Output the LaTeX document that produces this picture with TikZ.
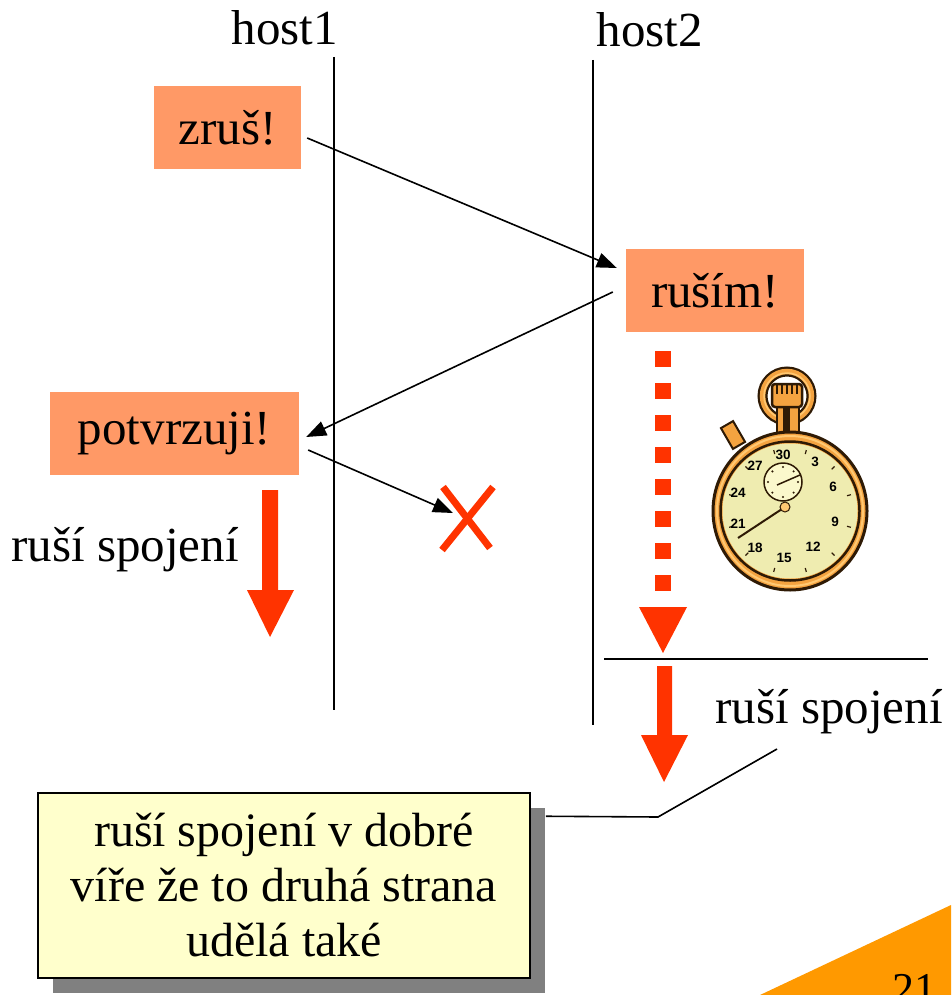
\documentclass[tikz,border=0pt]{standalone}
\usepackage{fontspec}
\setmainfont{Liberation Serif}
\newfontfamily\dialfont{Liberation Sans}
\usetikzlibrary{arrows.meta,calc,shadows}

\definecolor{msgfill}{HTML}{FF9966}
\definecolor{alarm}{HTML}{FF3300}
\definecolor{notefill}{HTML}{FFFFCC}
\definecolor{slide}{HTML}{FF9900}
\definecolor{casegold}{HTML}{F4A340}
\definecolor{caselight}{HTML}{FFC872}
\definecolor{casedark}{HTML}{2E1A05}
\definecolor{dialface}{HTML}{EFECB0}
\definecolor{subface}{HTML}{FBF8CC}

\tikzset{
  big/.style={font=\fontsize{49}{55}\selectfont},
  msg/.style={big, fill=msgfill, inner sep=0pt, minimum height=83pt},
  sendarrow/.style={line width=1.6pt, -{Triangle[length=20pt,width=15pt]}},
  lifeline/.style={line width=2pt},
  note/.style={font=\fontsize{48}{55}\selectfont, draw, line width=1.5pt, fill=notefill, align=center,
    inner sep=0pt, minimum width=492pt, minimum height=185pt,
    drop shadow={shadow xshift=15pt, shadow yshift=-15pt, fill=black!50, opacity=1}},
  dialnum/.style={font=\dialfont\bfseries\fontsize{13.5}{13.5}\selectfont, inner sep=0pt},
}

\begin{document}
\begin{tikzpicture}[x=1pt,y=-1pt]
\useasboundingbox (0,0) rectangle (951,995);

% page corner with slide number
\fill[slide] (760,995) -- (951,905) -- (951,995) -- cycle;
\node[font=\fontsize{44}{44}\selectfont, anchor=base, inner sep=0pt] (pageno) at (914,1003) {21};

% hosts and lifelines
\node[big, anchor=base, inner sep=0pt] (host1) at (285,45) {host1};
\node[big, anchor=base, inner sep=0pt] (host2) at (650,47) {host2};
\coordinate (l1top) at (334,57);
\coordinate (l1bot) at (334,710);
\coordinate (l2top) at (593,60);
\coordinate (l2bot) at (593,725);
\draw[lifeline] (l1top) -- (l1bot);
\draw[lifeline] (l2top) -- (l2bot);

% messages
\node[msg, minimum width=147pt] (zrus) at (227.5,127.5) {zruš!};
\node[msg, minimum width=178pt] (rusim) at (715,290.5) {ruším!};
\node[msg, minimum width=249pt] (potv) at (174.5,433.5) {potvrzuji!};

\draw[sendarrow] ($(zrus.east)+(6,10.5)$) -- ($(rusim.west)+(-9,-22.5)$);
\draw[sendarrow] ($(rusim.west)+(-13,1.5)$) -- ($(potv.east)+(7,3.5)$);

% lost acknowledgement
\coordinate (lost) at (467,518);
\draw[sendarrow] ($(potv.east)+(9,16.5)$) -- ($(lost)+(-14,-5)$);
\draw[alarm, line width=7pt] ($(lost)+(-24,-31)$) -- ($(lost)+(23,30)$);
\draw[alarm, line width=7pt] ($(lost)+(26,-31)$) -- ($(lost)+(-25,32)$);

% host1 closes the connection
\fill[alarm] (262,490) -- (278,490) -- (278,590) -- (294,590) -- (270,637)
  -- (247,590) -- (262,590) -- cycle;
\node[big, anchor=base, inner sep=0pt] (close1) at (125,561) {ruší spojení};

% host2 waits for the timeout
\foreach \k in {0,...,7}
  \fill[alarm] (655,351+32*\k) rectangle (671,367+32*\k);
\fill[alarm] (639,607) -- (687,607) -- (663,653) -- cycle;
\coordinate (tlL) at (604,659);
\coordinate (tlR) at (928,659);
\draw[line width=1.6pt] (tlL) -- (tlR);
\fill[alarm] (657,666) -- (672,666) -- (672,735) -- (688,735) -- (664,782)
  -- (641,735) -- (657,735) -- cycle;
\node[big, anchor=base, inner sep=0pt] (close2) at (829,723) {ruší spojení};

% explanatory note
\node[note] (note) at (284,885.5) {ruší spojení v dobré\\víře že to druhá strana\\udělá také};
\coordinate (calloutA) at (777,749);
\coordinate (calloutB) at (658,817);
\draw[line width=1.6pt] (calloutA) -- (calloutB) -- ($(note.north east)+(15,24)$);

% stopwatch
\begin{scope}
  % ring
  \draw[casedark, line width=10pt] (787,396) circle[radius=24.5];
  \draw[casegold, line width=5.5pt] (787,396) circle[radius=24.5];
  \draw[caselight, line width=1.5pt] (787,396) circle[radius=23];
  % button
  \filldraw[fill=casegold, draw=casedark, line width=2pt, rotate around={30:(733,435)}]
    (726,423) rectangle (740,447);
  % stem and crown
  \filldraw[fill=casegold, draw=casedark, line width=2.5pt] (777,404) rectangle (799,434);
  \fill[casedark] (783,406) rectangle (790,432);
  \filldraw[fill=casegold, draw=casedark, line width=2.5pt, rounded corners=3pt]
    (772,384) rectangle (802,407);
  \foreach \xx in {777,782,787,792,797}
    \draw[casedark, line width=1.8pt] (\xx,385) -- (\xx,394);
  % case
  \filldraw[fill=casegold, draw=casedark, line width=3pt] (790,511) ellipse[x radius=77, y radius=79];
  \draw[caselight, line width=2pt] (790,511) ellipse[x radius=73, y radius=75];
  \draw[casedark, line width=2.5pt] (790,511) circle[radius=69.5];
  \fill[dialface] (790,511) circle[radius=67.5];
  % minute ticks
  \foreach \a in {15,45,...,345}
    \draw[casedark, line width=1.2pt] ($(790,511)+(\a:59)$) -- ($(790,511)+(\a:63)$);
  % numerals
  \node[dialnum] (d30) at (783,455) {30};
  \node[dialnum] (d3) at (815,462) {3};
  \node[dialnum] (d27) at (755,466) {27};
  \node[dialnum] (d6) at (833,487) {6};
  \node[dialnum] (d24) at (738,493) {24};
  \node[dialnum] (d9) at (835,522) {9};
  \node[dialnum] (d21) at (738,524) {21};
  \node[dialnum] (d18) at (755,548) {18};
  \node[dialnum] (d12) at (813,547) {12};
  \node[dialnum] (d15) at (784,558) {15};
  % sub-dial
  \filldraw[fill=subface, draw=casedark, line width=1.5pt] (783,482) circle[radius=19];
  \foreach \a in {0,45,...,315}
    \fill[casedark] ($(783,482)+(\a:15)$) circle[radius=1.2];
  \draw[casedark, line width=1.5pt] (777,485) -- (800,475);
  % sweep hand
  \draw[casedark, line width=2pt] (785,507) -- (738,538);
  \filldraw[fill=caselight, draw=casedark, line width=1pt] (785,507) circle[radius=5];
\end{scope}
\end{tikzpicture}
\end{document}
